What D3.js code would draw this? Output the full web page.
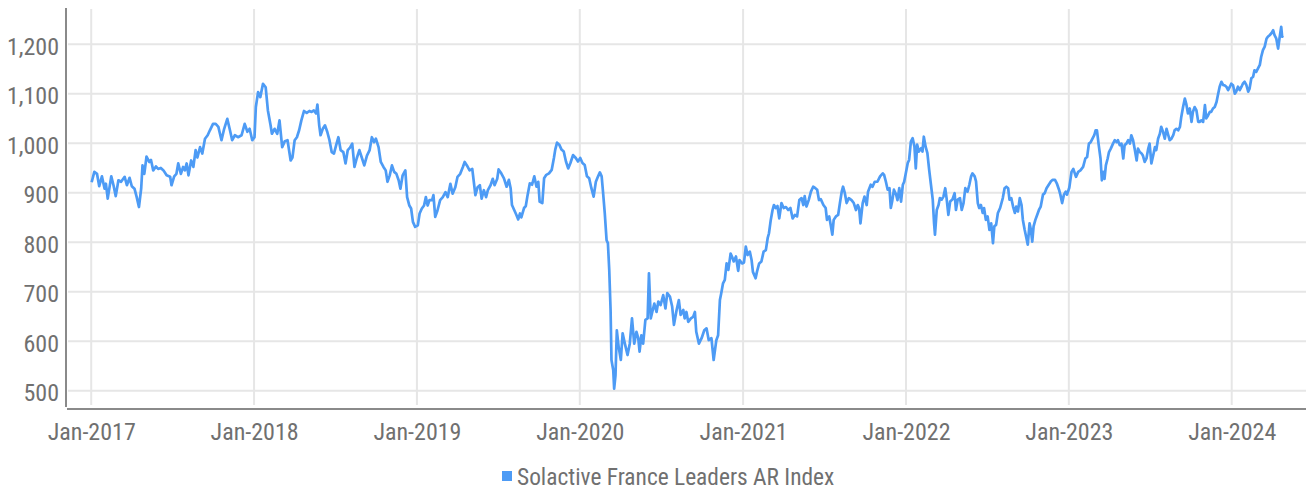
<!DOCTYPE html>
<html>
<head>
<meta charset="utf-8">
<script src="https://cdn.jsdelivr.net/npm/d3@7"></script>
<style>
  html, body { margin: 0; padding: 0; background: #ffffff; }
  svg { display: block; }
  text { font-family: "Liberation Sans Narrow", "Roboto Condensed", "Roboto", sans-serif; fill: #707070; }
</style>
</head>
<body>
<svg id="chart" width="1306" height="490"></svg>
<script>
// Solactive France Leaders AR Index, sampled closing levels by year
const y2017 = [["2017-01-02",921],["2017-01-08",942],["2017-01-14",938],["2017-01-19",913],["2017-01-25",933],["2017-01-31",908],["2017-02-03",918],["2017-02-07",888],["2017-02-15",933],["2017-02-20",915],["2017-02-25",893],["2017-03-03",925],["2017-03-09",922],["2017-03-17",932],["2017-03-22",915],["2017-03-28",930],["2017-04-02",913],["2017-04-08",908],["2017-04-13",891],["2017-04-18",871],["2017-04-23",908],["2017-04-26",955],["2017-04-30",938],["2017-05-05",973],["2017-05-11",962],["2017-05-15",966],["2017-05-20",945],["2017-05-26",953],["2017-05-31",948],["2017-06-06",950],["2017-06-12",945],["2017-06-19",935],["2017-06-27",932],["2017-06-30",915],["2017-07-06",933],["2017-07-11",938],["2017-07-15",959],["2017-07-21",938],["2017-07-26",952],["2017-07-30",945],["2017-08-03",959],["2017-08-07",935],["2017-08-13",965],["2017-08-18",952],["2017-08-23",986],["2017-08-27",971],["2017-09-02",992],["2017-09-07",979],["2017-09-13",1009],["2017-09-19",1016],["2017-09-24",1026],["2017-10-01",1039],["2017-10-07",1039],["2017-10-13",1033],["2017-10-20",1006],["2017-10-26",1029],["2017-11-02",1049],["2017-11-08",1026],["2017-11-13",1006],["2017-11-19",1016],["2017-11-26",1012],["2017-12-04",1016],["2017-12-11",1039],["2017-12-17",1023],["2017-12-22",1029],["2017-12-28",1006]];

const y2018 = [["2018-01-02",1012],["2018-01-05",1073],["2018-01-10",1103],["2018-01-15",1093],["2018-01-21",1120],["2018-01-27",1113],["2018-02-01",1066],["2018-02-07",1036],["2018-02-10",1019],["2018-02-16",1029],["2018-02-22",1019],["2018-02-27",1046],["2018-03-05",992],["2018-03-11",1004],["2018-03-17",1006],["2018-03-24",965],["2018-03-28",971],["2018-04-02",1006],["2018-04-07",1012],["2018-04-12",1026],["2018-04-17",1046],["2018-04-23",1065],["2018-04-29",1061],["2018-05-05",1065],["2018-05-10",1063],["2018-05-15",1066],["2018-05-20",1060],["2018-05-23",1078],["2018-05-27",1036],["2018-05-30",1016],["2018-06-04",1029],["2018-06-09",1036],["2018-06-14",1023],["2018-06-19",1006],["2018-06-24",982],["2018-06-29",979],["2018-07-04",996],["2018-07-09",1012],["2018-07-14",986],["2018-07-20",982],["2018-07-25",959],["2018-07-30",986],["2018-08-04",991],["2018-08-09",999],["2018-08-14",952],["2018-08-19",969],["2018-08-25",986],["2018-08-30",972],["2018-09-05",955],["2018-09-11",975],["2018-09-17",986],["2018-09-22",1012],["2018-09-27",1002],["2018-10-01",1009],["2018-10-07",992],["2018-10-12",962],["2018-10-18",952],["2018-10-23",945],["2018-10-27",922],["2018-11-01",935],["2018-11-06",955],["2018-11-11",942],["2018-11-16",938],["2018-11-21",925],["2018-11-25",908],["2018-11-30",935],["2018-12-06",945],["2018-12-10",891],["2018-12-15",874],["2018-12-19",868],["2018-12-23",841],["2018-12-28",831]];

const y2019 = [["2019-01-03",834],["2019-01-07",858],["2019-01-12",868],["2019-01-17",874],["2019-01-21",891],["2019-01-25",874],["2019-01-29",885],["2019-02-04",885],["2019-02-07",895],["2019-02-11",851],["2019-02-16",864],["2019-02-22",885],["2019-02-28",891],["2019-03-06",901],["2019-03-11",891],["2019-03-17",918],["2019-03-22",898],["2019-03-28",911],["2019-04-02",932],["2019-04-08",938],["2019-04-14",952],["2019-04-18",962],["2019-04-23",955],["2019-04-29",945],["2019-05-05",948],["2019-05-09",918],["2019-05-12",895],["2019-05-17",911],["2019-05-22",915],["2019-05-26",888],["2019-05-31",905],["2019-06-05",891],["2019-06-09",905],["2019-06-15",915],["2019-06-20",928],["2019-06-24",915],["2019-06-30",928],["2019-07-03",947],["2019-07-09",939],["2019-07-15",929],["2019-07-21",912],["2019-07-26",926],["2019-07-30",909],["2019-08-02",875],["2019-08-07",865],["2019-08-12",855],["2019-08-16",846],["2019-08-20",858],["2019-08-23",850],["2019-08-29",869],["2019-09-02",873],["2019-09-06",895],["2019-09-11",919],["2019-09-16",916],["2019-09-21",933],["2019-09-26",912],["2019-09-30",922],["2019-10-03",882],["2019-10-09",879],["2019-10-13",929],["2019-10-18",936],["2019-10-24",939],["2019-10-30",946],["2019-11-04",970],["2019-11-07",987],["2019-11-11",1001],["2019-11-16",997],["2019-11-21",987],["2019-11-26",983],["2019-12-01",963],["2019-12-06",949],["2019-12-11",960],["2019-12-17",976],["2019-12-23",970],["2019-12-28",963]];

const y2020 = [["2020-01-02",970],["2020-01-07",960],["2020-01-12",956],["2020-01-17",933],["2020-01-22",929],["2020-01-27",909],["2020-02-01",892],["2020-02-06",922],["2020-02-11",933],["2020-02-15",941],["2020-02-19",933],["2020-02-22",902],["2020-02-26",858],["2020-03-01",804],["2020-03-04",798],["2020-03-07",744],["2020-03-10",663],["2020-03-12",562],["2020-03-16",541],["2020-03-18",504],["2020-03-21",531],["2020-03-24",622],["2020-03-28",589],["2020-04-02",562],["2020-04-06",616],["2020-04-11",595],["2020-04-17",572],["2020-04-22",595],["2020-04-27",646],["2020-05-02",595],["2020-05-07",619],["2020-05-11",606],["2020-05-14",579],["2020-05-18",612],["2020-05-22",595],["2020-05-27",643],["2020-06-01",646],["2020-06-04",737],["2020-06-08",646],["2020-06-16",676],["2020-06-21",659],["2020-06-25",680],["2020-06-30",673],["2020-07-06",693],["2020-07-11",666],["2020-07-15",697],["2020-07-21",690],["2020-07-26",670],["2020-07-30",633],["2020-08-05",663],["2020-08-10",683],["2020-08-14",653],["2020-08-20",663],["2020-08-23",646],["2020-08-27",659],["2020-08-31",639],["2020-09-06",646],["2020-09-11",649],["2020-09-15",659],["2020-09-18",619],["2020-09-24",595],["2020-09-30",606],["2020-10-06",622],["2020-10-11",626],["2020-10-16",602],["2020-10-22",606],["2020-10-27",562],["2020-11-02",602],["2020-11-06",612],["2020-11-10",683],["2020-11-13",697],["2020-11-17",717],["2020-11-21",724],["2020-11-25",757],["2020-11-29",744],["2020-12-04",777],["2020-12-07",771],["2020-12-11",761],["2020-12-16",771],["2020-12-21",742],["2020-12-24",764],["2020-12-30",757]];

const y2021 = [["2021-01-03",759],["2021-01-07",791],["2021-01-11",774],["2021-01-16",781],["2021-01-20",764],["2021-01-23",740],["2021-01-29",727],["2021-02-01",740],["2021-02-06",757],["2021-02-11",761],["2021-02-16",781],["2021-02-21",784],["2021-02-25",808],["2021-02-28",818],["2021-03-04",845],["2021-03-08",865],["2021-03-11",875],["2021-03-15",869],["2021-03-19",873],["2021-03-23",848],["2021-03-28",879],["2021-04-02",869],["2021-04-07",871],["2021-04-12",865],["2021-04-17",869],["2021-04-22",848],["2021-04-27",855],["2021-05-02",852],["2021-05-07",885],["2021-05-12",889],["2021-05-16",875],["2021-05-19",893],["2021-05-23",872],["2021-05-28",885],["2021-06-02",902],["2021-06-07",912],["2021-06-12",909],["2021-06-16",906],["2021-06-20",885],["2021-06-24",887],["2021-06-30",875],["2021-07-05",869],["2021-07-08",845],["2021-07-13",852],["2021-07-17",831],["2021-07-20",815],["2021-07-23",845],["2021-07-28",852],["2021-08-02",855],["2021-08-06",879],["2021-08-10",902],["2021-08-13",912],["2021-08-17",899],["2021-08-21",879],["2021-08-26",889],["2021-09-01",885],["2021-09-06",879],["2021-09-11",865],["2021-09-15",875],["2021-09-18",869],["2021-09-21",838],["2021-09-26",879],["2021-09-30",892],["2021-10-05",875],["2021-10-08",902],["2021-10-14",916],["2021-10-18",912],["2021-10-23",922],["2021-10-29",922],["2021-11-04",933],["2021-11-10",939],["2021-11-13",936],["2021-11-17",922],["2021-11-21",906],["2021-11-25",909],["2021-11-28",869],["2021-12-01",882],["2021-12-05",906],["2021-12-10",896],["2021-12-13",885],["2021-12-17",909],["2021-12-21",882],["2021-12-25",916],["2021-12-28",922]];

const y2022 = [["2022-01-05",960],["2022-01-08",966],["2022-01-12",1003],["2022-01-16",1010],["2022-01-20",993],["2022-01-23",949],["2022-01-26",997],["2022-01-30",983],["2022-02-04",990],["2022-02-07",983],["2022-02-10",1013],["2022-02-14",993],["2022-02-18",980],["2022-02-22",946],["2022-02-26",916],["2022-03-02",886],["2022-03-05",838],["2022-03-07",815],["2022-03-11",865],["2022-03-15",875],["2022-03-18",889],["2022-03-22",886],["2022-03-26",892],["2022-03-30",909],["2022-04-02",889],["2022-04-06",855],["2022-04-10",882],["2022-04-15",886],["2022-04-20",899],["2022-04-23",865],["2022-04-27",886],["2022-05-02",889],["2022-05-06",865],["2022-05-10",879],["2022-05-14",909],["2022-05-19",902],["2022-05-23",916],["2022-05-27",933],["2022-05-30",939],["2022-06-04",933],["2022-06-07",923],["2022-06-11",879],["2022-06-14",869],["2022-06-18",875],["2022-06-22",859],["2022-06-25",869],["2022-06-29",845],["2022-07-03",852],["2022-07-07",825],["2022-07-11",838],["2022-07-15",798],["2022-07-18",832],["2022-07-22",835],["2022-07-26",859],["2022-07-31",869],["2022-08-06",889],["2022-08-10",909],["2022-08-14",912],["2022-08-18",909],["2022-08-21",886],["2022-08-25",889],["2022-08-29",872],["2022-09-02",859],["2022-09-05",872],["2022-09-09",862],["2022-09-13",889],["2022-09-17",875],["2022-09-20",845],["2022-09-24",825],["2022-09-28",808],["2022-10-01",795],["2022-10-05",838],["2022-10-08",825],["2022-10-11",801],["2022-10-14",832],["2022-10-18",845],["2022-10-22",855],["2022-10-26",865],["2022-10-30",872],["2022-11-04",896],["2022-11-08",899],["2022-11-12",909],["2022-11-17",916],["2022-11-22",923],["2022-11-26",926],["2022-12-01",926],["2022-12-05",919],["2022-12-10",906],["2022-12-13",896],["2022-12-17",879],["2022-12-21",896],["2022-12-25",902],["2022-12-28",896]];

const y2023 = [["2023-01-02",910],["2023-01-07",942],["2023-01-11",948],["2023-01-17",932],["2023-01-22",942],["2023-01-27",945],["2023-02-02",952],["2023-02-07",969],["2023-02-11",972],["2023-02-15",999],["2023-02-19",1002],["2023-02-23",1009],["2023-02-27",1016],["2023-03-02",1026],["2023-03-05",1026],["2023-03-09",996],["2023-03-13",969],["2023-03-16",925],["2023-03-19",942],["2023-03-22",928],["2023-03-25",955],["2023-03-29",969],["2023-04-01",982],["2023-04-05",989],["2023-04-10",999],["2023-04-14",1006],["2023-04-18",1002],["2023-04-21",1006],["2023-04-25",996],["2023-04-29",999],["2023-05-03",969],["2023-05-06",996],["2023-05-10",999],["2023-05-14",1006],["2023-05-18",999],["2023-05-21",1016],["2023-05-25",1006],["2023-05-29",986],["2023-06-02",965],["2023-06-05",989],["2023-06-09",982],["2023-06-13",979],["2023-06-16",975],["2023-06-20",962],["2023-06-24",969],["2023-06-28",989],["2023-07-01",999],["2023-07-05",959],["2023-07-09",975],["2023-07-13",992],["2023-07-16",986],["2023-07-20",1009],["2023-07-24",1019],["2023-07-27",1033],["2023-07-31",1023],["2023-08-04",1009],["2023-08-08",1029],["2023-08-11",1019],["2023-08-15",1006],["2023-08-19",1009],["2023-08-23",1016],["2023-08-26",1026],["2023-08-30",1029],["2023-09-03",1026],["2023-09-07",1033],["2023-09-10",1053],["2023-09-14",1073],["2023-09-18",1090],["2023-09-21",1080],["2023-09-25",1060],["2023-09-29",1070],["2023-10-03",1043],["2023-10-06",1063],["2023-10-10",1073],["2023-10-14",1066],["2023-10-18",1043],["2023-10-21",1043],["2023-10-25",1046],["2023-10-29",1043],["2023-11-02",1077],["2023-11-05",1050],["2023-11-09",1056],["2023-11-13",1063],["2023-11-16",1063],["2023-11-20",1070],["2023-11-24",1073],["2023-11-28",1083],["2023-12-01",1097],["2023-12-05",1114],["2023-12-09",1124],["2023-12-13",1117],["2023-12-16",1117],["2023-12-20",1114],["2023-12-24",1107],["2023-12-28",1114],["2023-12-31",1120]];

const y2024 = [["2024-01-04",1117],["2024-01-08",1100],["2024-01-11",1104],["2024-01-15",1114],["2024-01-19",1107],["2024-01-23",1114],["2024-01-26",1120],["2024-01-30",1124],["2024-02-03",1117],["2024-02-07",1104],["2024-02-10",1110],["2024-02-14",1131],["2024-02-18",1134],["2024-02-21",1147],["2024-02-25",1144],["2024-02-29",1151],["2024-03-04",1158],["2024-03-07",1174],["2024-03-11",1188],["2024-03-15",1195],["2024-03-19",1211],["2024-03-22",1215],["2024-03-26",1218],["2024-03-30",1222],["2024-04-03",1228],["2024-04-06",1218],["2024-04-10",1211],["2024-04-14",1191],["2024-04-17",1211],["2024-04-21",1235],["2024-04-23",1215],["2024-04-25",1217]];

const seriesName = "Solactive France Leaders AR Index";
const yTicks = [500, 600, 700, 800, 900, 1000, 1100, 1200];
const xTickDates = ["2017-01-01","2018-01-01","2019-01-01","2020-01-01","2021-01-01","2022-01-01","2023-01-01","2024-01-01"];
const xTickLabels = ["Jan-2017","Jan-2018","Jan-2019","Jan-2020","Jan-2021","Jan-2022","Jan-2023","Jan-2024"];

// ---- drawing ----
const W = 1306, H = 490;
const plot = { left: 66, right: W, top: 8, bottom: 409 };
const lineColor = "#4d9bf5";
const gridColor = "#e6e6e6";
const axisColor = "#8a8a8a";
const fontSize = 24;

const parse = d3.timeParse("%Y-%m-%d");
const series = [].concat(y2017, y2018, y2019, y2020, y2021, y2022, y2023, y2024)
  .map(([d, v]) => ({ date: parse(d), value: v }));
const tickDates = xTickDates.map(parse);

const x = d3.scaleTime()
  .domain([tickDates[0], tickDates[tickDates.length - 1]])
  .range([91.2, 1231.7]);
const y = d3.scaleLinear()
  .domain([463, 1271])
  .range([plot.bottom, plot.top + 1]);

const svg = d3.select("#chart");

// horizontal grid
svg.append("g").selectAll("line").data(yTicks).join("line")
  .attr("x1", plot.left + 2).attr("x2", plot.right)
  .attr("y1", d => y(d)).attr("y2", d => y(d))
  .attr("stroke", gridColor).attr("stroke-width", 2);

// vertical grid
svg.append("g").selectAll("line").data(tickDates).join("line")
  .attr("x1", d => x(d)).attr("x2", d => x(d))
  .attr("y1", plot.top + 1).attr("y2", plot.bottom - 4)
  .attr("stroke", gridColor).attr("stroke-width", 2);

// axis lines
svg.append("line")
  .attr("x1", plot.left).attr("x2", plot.left)
  .attr("y1", plot.top).attr("y2", plot.bottom - 2)
  .attr("stroke", axisColor).attr("stroke-width", 2);
svg.append("line")
  .attr("x1", plot.left + 1).attr("x2", plot.right)
  .attr("y1", plot.bottom).attr("y2", plot.bottom)
  .attr("stroke", axisColor).attr("stroke-width", 2);

// y axis labels
const yAxis = d3.axisLeft(y).tickValues(yTicks).tickFormat(d3.format(",")).tickSize(0).tickPadding(7);
const gy = svg.append("g").attr("transform", `translate(${plot.left},0)`).call(yAxis);
gy.select(".domain").remove();
gy.attr("font-family", null);
gy.selectAll("text").attr("font-size", fontSize).attr("dy", "0.42em");

// x axis labels
const xAxis = d3.axisBottom(x).tickValues(tickDates)
  .tickFormat((d, i) => xTickLabels[i]).tickSize(0).tickPadding(14);
const gx = svg.append("g").attr("transform", `translate(0,${plot.bottom})`).call(xAxis);
gx.select(".domain").remove();
gx.attr("font-family", null);
gx.selectAll("text").attr("font-size", fontSize);

// index line
const line = d3.line().x(d => x(d.date)).y(d => y(d.value)).curve(d3.curveLinear);
svg.append("path").datum(series)
  .attr("d", line)
  .attr("fill", "none")
  .attr("stroke", lineColor)
  .attr("stroke-width", 2.7)
  .attr("stroke-linejoin", "round");

// legend
const legend = svg.append("g").attr("transform", "translate(502,471)");
legend.append("rect").attr("width", 10).attr("height", 10).attr("fill", lineColor);
legend.append("text").attr("x", 15).attr("y", 14).attr("font-size", 23.4).text(seriesName);
</script>
</body>
</html>
